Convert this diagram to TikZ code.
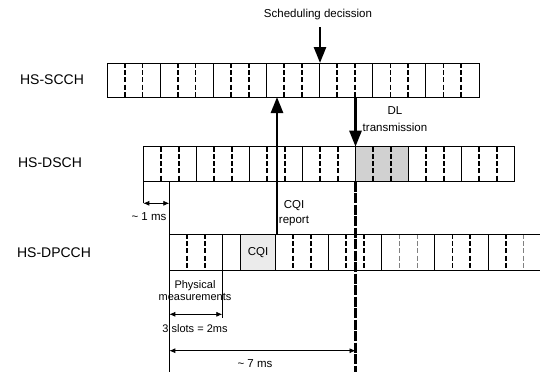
\documentclass[tikz,border=0pt]{standalone}
\usepackage{fontspec}
\setmainfont{Liberation Sans}
\usetikzlibrary{arrows.meta}
\begin{document}
\begin{tikzpicture}[x=1pt,y=-1pt,
  rowbox/.style={draw, line width=0.7pt, inner sep=0pt, outer sep=0pt, anchor=north west},
  sub/.style={line width=0.7pt},
  slot/.style={line width=1.8pt, dash pattern=on 5pt off 2.2pt},
  slotlt/.style={line width=1.1pt, dash pattern=on 5pt off 2.2pt, black!50},
  bigarrow/.style={line width=2.6pt, -{Triangle[length=16pt,width=12pt]}},
  dimarrow/.style={line width=0.7pt, {Latex[length=6pt,width=5pt]}-{Latex[length=6pt,width=5pt]}},
  lbl/.style={font=\fontsize{14}{16}\selectfont, inner sep=0pt},
  small/.style={font=\fontsize{11.5}{13}\selectfont, inner sep=0pt, align=center}]
\useasboundingbox (0,0) rectangle (540,372);

% ---------- HS-SCCH ----------
\foreach \k in {1,...,6} \draw[sub] ({107+53.14*\k},63) -- ++(0,34);
\foreach \k in {0,...,6} {
  \draw[slot] ({107+53.14*\k+17.71},63) -- ++(0,34);
  \draw[slot] ({107+53.14*\k+35.43},63) -- ++(0,34);
}
\node[rowbox, minimum width=372pt, minimum height=34pt] (scch) at (107,63) {};

% ---------- HS-DSCH ----------
\fill[black!18] (355.3,146.7) rectangle (408.3,181.7);
\foreach \k in {1,...,6} \draw[sub] ({143.3+53*\k},146.7) -- ++(0,35);
\foreach \k in {0,...,6} {
  \draw[slot] ({143.3+53*\k+17.67},146.7) -- ++(0,35);
  \draw[slot] ({143.3+53*\k+35.33},146.7) -- ++(0,35);
}
\node[rowbox, minimum width=371pt, minimum height=35pt] (dsch) at (143.3,146.7) {};

% ---------- HS-DPCCH ----------
\fill[black!8] (240.1,234) rectangle (275.5,270.7);
\foreach \x in {222.4,240.1,275.5,328.6,381.7,434.8,487.9} \draw[sub] (\x,234) -- (\x,270.7);
\foreach \x in {187,204.7,293.2,310.9,346.3,364,452.5,470.2,505.6} \draw[slot] (\x,234) -- (\x,270.7);
\foreach \x in {399.4,417.1,523.3} \draw[slotlt] (\x,234) -- (\x,270.7);
\coordinate (dptl) at (169.3,234);
\coordinate (dpbl) at (169.3,270.7);
\coordinate (dptr) at (540,234);
\coordinate (dpbr) at (540,270.7);
\draw[sub] (dptr) -- (dptl) -- (dpbl) -- (dpbr);

% ---------- labels ----------
\node[lbl] (l1) at (52,80) {HS-SCCH};
\node[lbl] (l2) at (50,163) {HS-DSCH};
\node[lbl] (l3) at (54,253) {HS-DPCCH};
\node[small] (cqibox) at (258,253) {CQI};
\node[small] (sched) at (318,15) {Scheduling decission};
\node[small, font=\fontsize{11.5}{17}\selectfont] (dl) at (395,119) {DL\\transmission};
\node[small, font=\fontsize{11.5}{15}\selectfont] (rep) at (294,213) {CQI\\report};
\node[small] (onems) at (149,217) {\textasciitilde{} 1 ms};
\node[small, font=\fontsize{11}{12}\selectfont] (phys) at (195,291) {Physical\\measurements};
\node[small, font=\fontsize{11}{13}\selectfont] (three) at (195,329) {3 slots = 2ms};
\node[small] (seven) at (255,364) {\textasciitilde{} 7 ms};

% ---------- big arrows ----------
\coordinate (sdtop) at (320,27);
\coordinate (sdbot) at (320,63);
\draw[bigarrow] (sdtop) -- (sdbot);

\coordinate (cqibot) at (277,234);
\coordinate (cqitop) at (277,97);
\draw[bigarrow] (cqibot) -- (cqitop);

\coordinate (dltop) at (355.5,97);
\coordinate (dlbot) at (355.5,146.7);
\draw[bigarrow] (dltop) -- (dlbot);
\coordinate (sevtop) at (355.5,181.7);
\coordinate (sevbot) at (355.5,372);
\draw[line width=2.2pt, dash pattern=on 10pt off 1.5pt] (sevtop) -- (sevbot);

% ---------- dimension lines ----------
\coordinate (a1) at (143.3,181.7);
\coordinate (a2) at (143.3,203.3);
\coordinate (b1) at (169.3,181.7);
\coordinate (b2) at (169.3,203.3);
\draw[sub] (a1) -- (a2);
\draw[sub] (b1) -- (dptl);
\draw[dimarrow] (a2) -- (b2);

\coordinate (lb) at (169.3,372);
\draw[sub] (dpbl) -- (lb);
\coordinate (pm1) at (222.3,270.7);
\coordinate (pm2) at (222.3,318);
\draw[line width=1.5pt] (pm1) -- (pm2);
\coordinate (s1) at (169.3,314.3);
\coordinate (s2) at (222.3,314.3);
\draw[dimarrow] (s1) -- (s2);
\coordinate (t1) at (169.3,350.7);
\coordinate (t2) at (355.5,350.7);
\draw[dimarrow] (t1) -- (t2);
\end{tikzpicture}
\end{document}
